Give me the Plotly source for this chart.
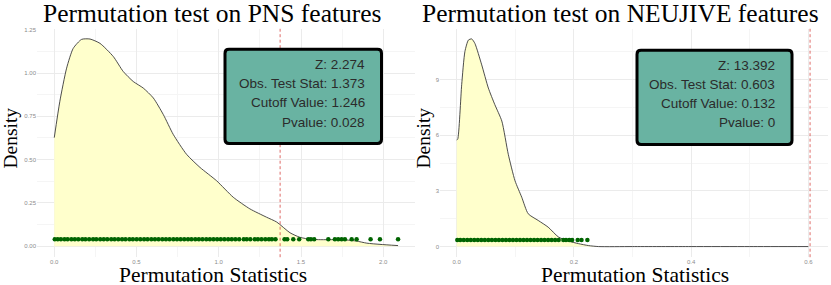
import plotly.graph_objects as go

W, H = 831, 285

# ---------------- data ----------------
pns_density_x = [0.0, 0.034, 0.075, 0.115, 0.166, 0.217, 0.278, 0.359, 0.419, 0.48, 0.541,
                 0.602, 0.663, 0.723, 0.804, 0.886, 0.987, 1.088, 1.189, 1.29, 1.352, 1.433,
                 1.493, 1.56, 1.62, 1.70, 1.777, 1.838, 1.90, 1.98, 2.09]
pns_density_y = [0.627, 0.837, 1.028, 1.142, 1.194, 1.196, 1.171, 1.095, 1.009, 0.951, 0.913,
                 0.856, 0.760, 0.646, 0.531, 0.455, 0.378, 0.283, 0.216, 0.168, 0.140, 0.078,
                 0.052, 0.040, 0.038, 0.038, 0.036, 0.030, 0.018, 0.011, 0.004]
pns_perm_stats = [0.003, 0.021, 0.040, 0.062, 0.081, 0.104, 0.125, 0.146, 0.170, 0.189, 0.212,
                  0.236, 0.255, 0.279, 0.301, 0.322, 0.346, 0.367, 0.389, 0.412, 0.433, 0.457,
                  0.478, 0.501, 0.523, 0.546, 0.567, 0.590, 0.612, 0.634, 0.657, 0.679, 0.701,
                  0.724, 0.746, 0.768, 0.790, 0.813, 0.834, 0.857, 0.879, 0.901, 0.924, 0.946,
                  0.968, 0.990, 1.012, 1.034, 1.057, 1.079, 1.101, 1.124, 1.152, 1.170, 1.192,
                  1.219, 1.238, 1.260, 1.283, 1.305, 1.323, 1.345, 1.400, 1.416, 1.453, 1.489,
                  1.544, 1.560, 1.580, 1.666, 1.706, 1.726, 1.747, 1.767, 1.808, 1.838, 1.923,
                  1.980, 2.090]
pns_obs = 1.373
pns_labels = ["Z: 2.274", "Obs. Test Stat: 1.373", "Cutoff Value: 1.246", "Pvalue: 0.028"]

neu_density_x = [0.0, 0.0017, 0.0085, 0.014, 0.020, 0.0256, 0.031, 0.0427, 0.054, 0.065, 0.077,
                 0.088, 0.0995, 0.111, 0.122, 0.139, 0.156, 0.1735, 0.190, 0.2076, 0.2247,
                 0.242, 0.30, 0.40, 0.50, 0.60]
neu_density_y = [5.75, 5.79, 8.73, 10.52, 11.14, 11.20, 10.96, 9.80, 8.55, 7.66, 6.77,
                 4.98, 3.55, 2.66, 1.77, 1.41, 1.05, 0.52, 0.30, 0.16, 0.054,
                 0.0, 0.0, 0.0, 0.0, 0.0]
neu_perm_stats = [0.001, 0.006, 0.012, 0.018, 0.024, 0.030, 0.036, 0.042, 0.048, 0.054, 0.060,
                  0.066, 0.072, 0.078, 0.084, 0.090, 0.096, 0.102, 0.108, 0.114, 0.120, 0.126,
                  0.132, 0.138, 0.144, 0.150, 0.156, 0.162, 0.168, 0.174, 0.182, 0.1865,
                  0.192, 0.197, 0.2065, 0.213, 0.223]
neu_obs = 0.603
neu_labels = ["Z: 13.392", "Obs. Test Stat: 0.603", "Cutoff Value: 0.132", "Pvalue: 0"]

pns_xticks = [0.0, 0.5, 1.0, 1.5, 2.0]
pns_xticklabels = ["0.0", "0.5", "1.0", "1.5", "2.0"]
pns_yticks = [0.0, 0.25, 0.5, 0.75, 1.0, 1.25]
pns_yticklabels = ["0.00", "0.25", "0.50", "0.75", "1.00", "1.25"]
neu_xticks = [0.0, 0.2, 0.4, 0.6]
neu_xticklabels = ["0.0", "0.2", "0.4", "0.6"]
neu_yticks = [0, 3, 6, 9]
neu_yticklabels = ["0", "3", "6", "9"]

rug_y_pns = 0.04
rug_y_neu = 0.35

# ---------------- figure ----------------
def px(x):
    return x / W

def py(y):
    return 1 - y / H

fig = go.Figure()

line_style = dict(color="#3a3a3a", width=0.9, shape="spline", smoothing=0.6)
fig.add_trace(go.Scatter(x=pns_density_x, y=pns_density_y, mode="lines", line=line_style,
                         fill="tozeroy", fillcolor="#FFFFCC", xaxis="x", yaxis="y",
                         showlegend=False, hoverinfo="skip"))
fig.add_trace(go.Scatter(x=pns_perm_stats, y=[rug_y_pns] * len(pns_perm_stats), mode="markers",
                         marker=dict(color="#006400", size=4.5), xaxis="x", yaxis="y",
                         showlegend=False))
fig.add_trace(go.Scatter(x=neu_density_x, y=neu_density_y, mode="lines", line=line_style,
                         fill="tozeroy", fillcolor="#FFFFCC", xaxis="x2", yaxis="y2",
                         showlegend=False, hoverinfo="skip"))
fig.add_trace(go.Scatter(x=neu_perm_stats, y=[rug_y_neu] * len(neu_perm_stats), mode="markers",
                         marker=dict(color="#006400", size=4.5), xaxis="x2", yaxis="y2",
                         showlegend=False))

# vertical dashed lines at observed stat
dash_style = dict(color="#D64541", width=0.8, dash="3px,2.5px")
fig.add_shape(type="line", xref="x", yref="y domain", x0=pns_obs, x1=pns_obs, y0=0, y1=1,
              line=dash_style)
fig.add_shape(type="line", xref="x2", yref="y2 domain", x0=neu_obs, x1=neu_obs, y0=0, y1=1,
              line=dash_style)


def rounded_box(x0, y0, x1, y1, r=4):
    # pixel coords -> paper path
    return (f"M {px(x0 + r)},{py(y0)} L {px(x1 - r)},{py(y0)} "
            f"Q {px(x1)},{py(y0)} {px(x1)},{py(y0 + r)} "
            f"L {px(x1)},{py(y1 - r)} Q {px(x1)},{py(y1)} {px(x1 - r)},{py(y1)} "
            f"L {px(x0 + r)},{py(y1)} Q {px(x0)},{py(y1)} {px(x0)},{py(y1 - r)} "
            f"L {px(x0)},{py(y0 + r)} Q {px(x0)},{py(y0)} {px(x0 + r)},{py(y0)} Z")


for (bx0, by0, bx1, by1), labels, tx, tys in [
    ((225, 47.5, 381.5, 142.5), pns_labels, 367, [63, 82.3, 101.7, 121]),
    ((637, 48.5, 792, 143.5), neu_labels, 777, [64.3, 83.3, 102.7, 121.7]),
]:
    fig.add_shape(type="path", xref="paper", yref="paper", path=rounded_box(bx0, by0, bx1, by1),
                  fillcolor="#69B3A2", line=dict(color="black", width=3), layer="above")
    for lab, ty in zip(labels, tys):
        fig.add_annotation(text=lab, xref="paper", yref="paper", x=px(tx), y=py(ty),
                           xanchor="right", yanchor="middle", showarrow=False,
                           font=dict(family="Liberation Sans", size=13.5, color="#2b2b2b"))

serif = "Liberation Serif"
texts = [
    ("Permutation test on PNS features", 212.5, 12, 25.5, 0),
    ("Permutation test on NEUJIVE features", 620.5, 12, 25.5, 0),
    ("Permutation Statistics", 213, 274.5, 21.5, 0),
    ("Permutation Statistics", 635, 274.5, 21.5, 0),
    ("Density", 10.5, 137, 19.5, -90),
    ("Density", 423.5, 137, 19.5, -90),
]
for t, x, y, s, ang in texts:
    fig.add_annotation(text=t, xref="paper", yref="paper", x=px(x), y=py(y),
                       xanchor="center", yanchor="middle", showarrow=False, textangle=ang,
                       font=dict(family=serif, size=s, color="black"))

axis_common = dict(showline=False, zeroline=False, ticks="", gridcolor="#EBEBEB", gridwidth=0.8,
                   tickfont=dict(family="Liberation Sans", size=6, color="#8C8C8C"))

fig.update_layout(
    width=W, height=H, margin=dict(l=0, r=0, t=0, b=0),
    paper_bgcolor="white", plot_bgcolor="white",
    xaxis=dict(domain=[px(37), px(415)], range=[-0.105, 2.193], tickvals=pns_xticks,
               ticktext=pns_xticklabels, anchor="y",
               minor=dict(tickvals=[0.25, 0.75, 1.25, 1.75], showgrid=True, gridcolor="#F5F5F5"),
               **axis_common),
    yaxis=dict(domain=[py(257), py(27)], range=[-0.063, 1.255], tickvals=pns_yticks,
               ticktext=pns_yticklabels, anchor="x",
               minor=dict(tickvals=[0.125, 0.375, 0.625, 0.875, 1.125], showgrid=True,
                          gridcolor="#F5F5F5"),
               **axis_common),
    xaxis2=dict(domain=[px(440), px(828)], range=[-0.0285, 0.6336], tickvals=neu_xticks,
                ticktext=neu_xticklabels, anchor="y2",
                minor=dict(tickvals=[0.1, 0.3, 0.5], showgrid=True, gridcolor="#F5F5F5"),
                **axis_common),
    yaxis2=dict(domain=[py(257), py(27)], range=[-0.573, 11.746], tickvals=neu_yticks,
                ticktext=neu_yticklabels, anchor="x2",
                minor=dict(tickvals=[1.5, 4.5, 7.5, 10.5], showgrid=True, gridcolor="#F5F5F5"),
                **axis_common),
)

fig.write_html("out.html", config={"displayModeBar": False},
               post_script="document.body.style.margin='0';document.body.style.overflow='hidden';")
